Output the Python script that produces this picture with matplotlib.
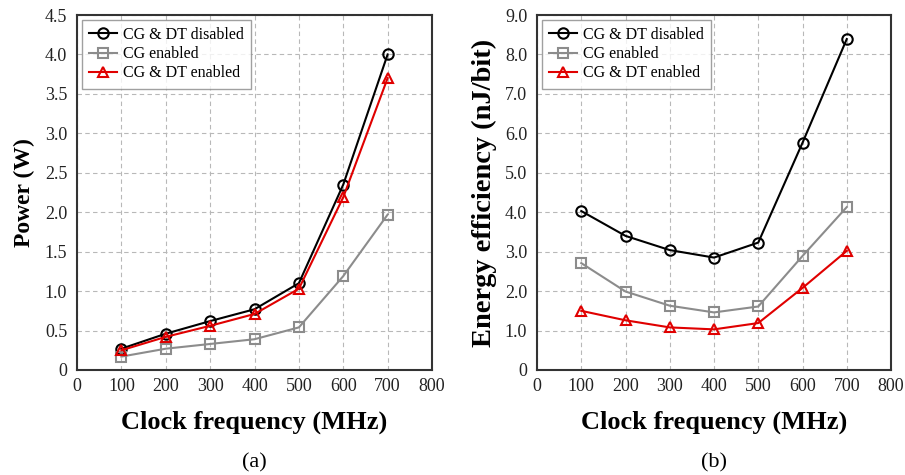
import matplotlib
matplotlib.use("Agg")
import matplotlib.pyplot as plt
from matplotlib.ticker import FuncFormatter, MultipleLocator

plt.rcParams['font.family'] = ['Liberation Serif', 'DejaVu Serif']

freq = [100, 200, 300, 400, 500, 600, 700]
series_labels = ["CG & DT disabled", "CG enabled", "CG & DT enabled"]

power_disabled = [0.27, 0.46, 0.62, 0.77, 1.10, 2.35, 4.00]
power_cg = [0.17, 0.27, 0.33, 0.39, 0.54, 1.19, 1.97]
power_cgdt = [0.25, 0.42, 0.56, 0.71, 1.03, 2.19, 3.70]

eff_disabled = [4.03, 3.40, 3.04, 2.85, 3.23, 5.76, 8.39]
eff_cg = [2.71, 1.99, 1.63, 1.46, 1.61, 2.89, 4.13]
eff_cgdt = [1.50, 1.26, 1.08, 1.03, 1.19, 2.08, 3.02]

colors = ["black", "#8c8c8c", "#e00000"]
markers = ["o", "s", "^"]

fig = plt.figure(figsize=(9.05, 4.75), dpi=100)
W, H = 905, 475
ax1 = fig.add_axes([77 / W, 1 - 370 / H, (432 - 77) / W, (370 - 15) / H])
ax2 = fig.add_axes([537 / W, 1 - 370 / H, (891 - 537) / W, (370 - 15) / H])


def fmt(v, pos):
    return "0" if abs(v) < 1e-9 else f"{v:.1f}"


def style(ax, ymax, ystep, ylabel, ylabel_size, ylabel_pad):
    ax.set_xlim(0, 800)
    ax.set_ylim(0, ymax)
    ax.xaxis.set_major_locator(MultipleLocator(100))
    ax.yaxis.set_major_locator(MultipleLocator(ystep))
    ax.yaxis.set_major_formatter(FuncFormatter(fmt))
    ax.grid(True, linestyle=(0, (4, 3)), color="#b8b8b8", linewidth=0.8)
    ax.set_axisbelow(True)
    ax.tick_params(length=0, labelsize=13, colors="#222222")
    ax.tick_params(axis="y", pad=7)
    ax.tick_params(axis="x", pad=6)
    for s in ax.spines.values():
        s.set_linewidth(1.5)
        s.set_color("#333333")
    ax.set_xlabel("Clock frequency (MHz)", fontsize=19, fontweight="bold", labelpad=11)
    ax.set_ylabel(ylabel, fontsize=ylabel_size, fontweight="bold", labelpad=ylabel_pad)


for ax, data in ((ax1, (power_disabled, power_cg, power_cgdt)),
                 (ax2, (eff_disabled, eff_cg, eff_cgdt))):
    for vals, c, m, lab in zip(data, colors, markers, series_labels):
        ax.plot(freq, vals, color=c, marker=m, markersize=7.5, markerfacecolor="none",
                markeredgewidth=1.5, linewidth=1.5, label=lab)
    leg = ax.legend(loc="upper left", fontsize=11.5, frameon=True, fancybox=False,
                    edgecolor="#888888", borderpad=0.45, labelspacing=0.2,
                    handlelength=1.75, handletextpad=0.4, borderaxespad=0.3)
    leg.get_frame().set_linewidth(1.0)

style(ax1, 4.5, 0.5, "Power (W)", 17, 7)
style(ax2, 9.0, 1.0, "Energy efficiency (nJ/bit)", 20.5, 6)

fig.text((77 + 432) / 2 / W, 1 - 463 / H, "(a)", ha="center", va="center", fontsize=16)
fig.text((537 + 891) / 2 / W, 1 - 463 / H, "(b)", ha="center", va="center", fontsize=16)

fig.savefig("out.png", dpi=100)
